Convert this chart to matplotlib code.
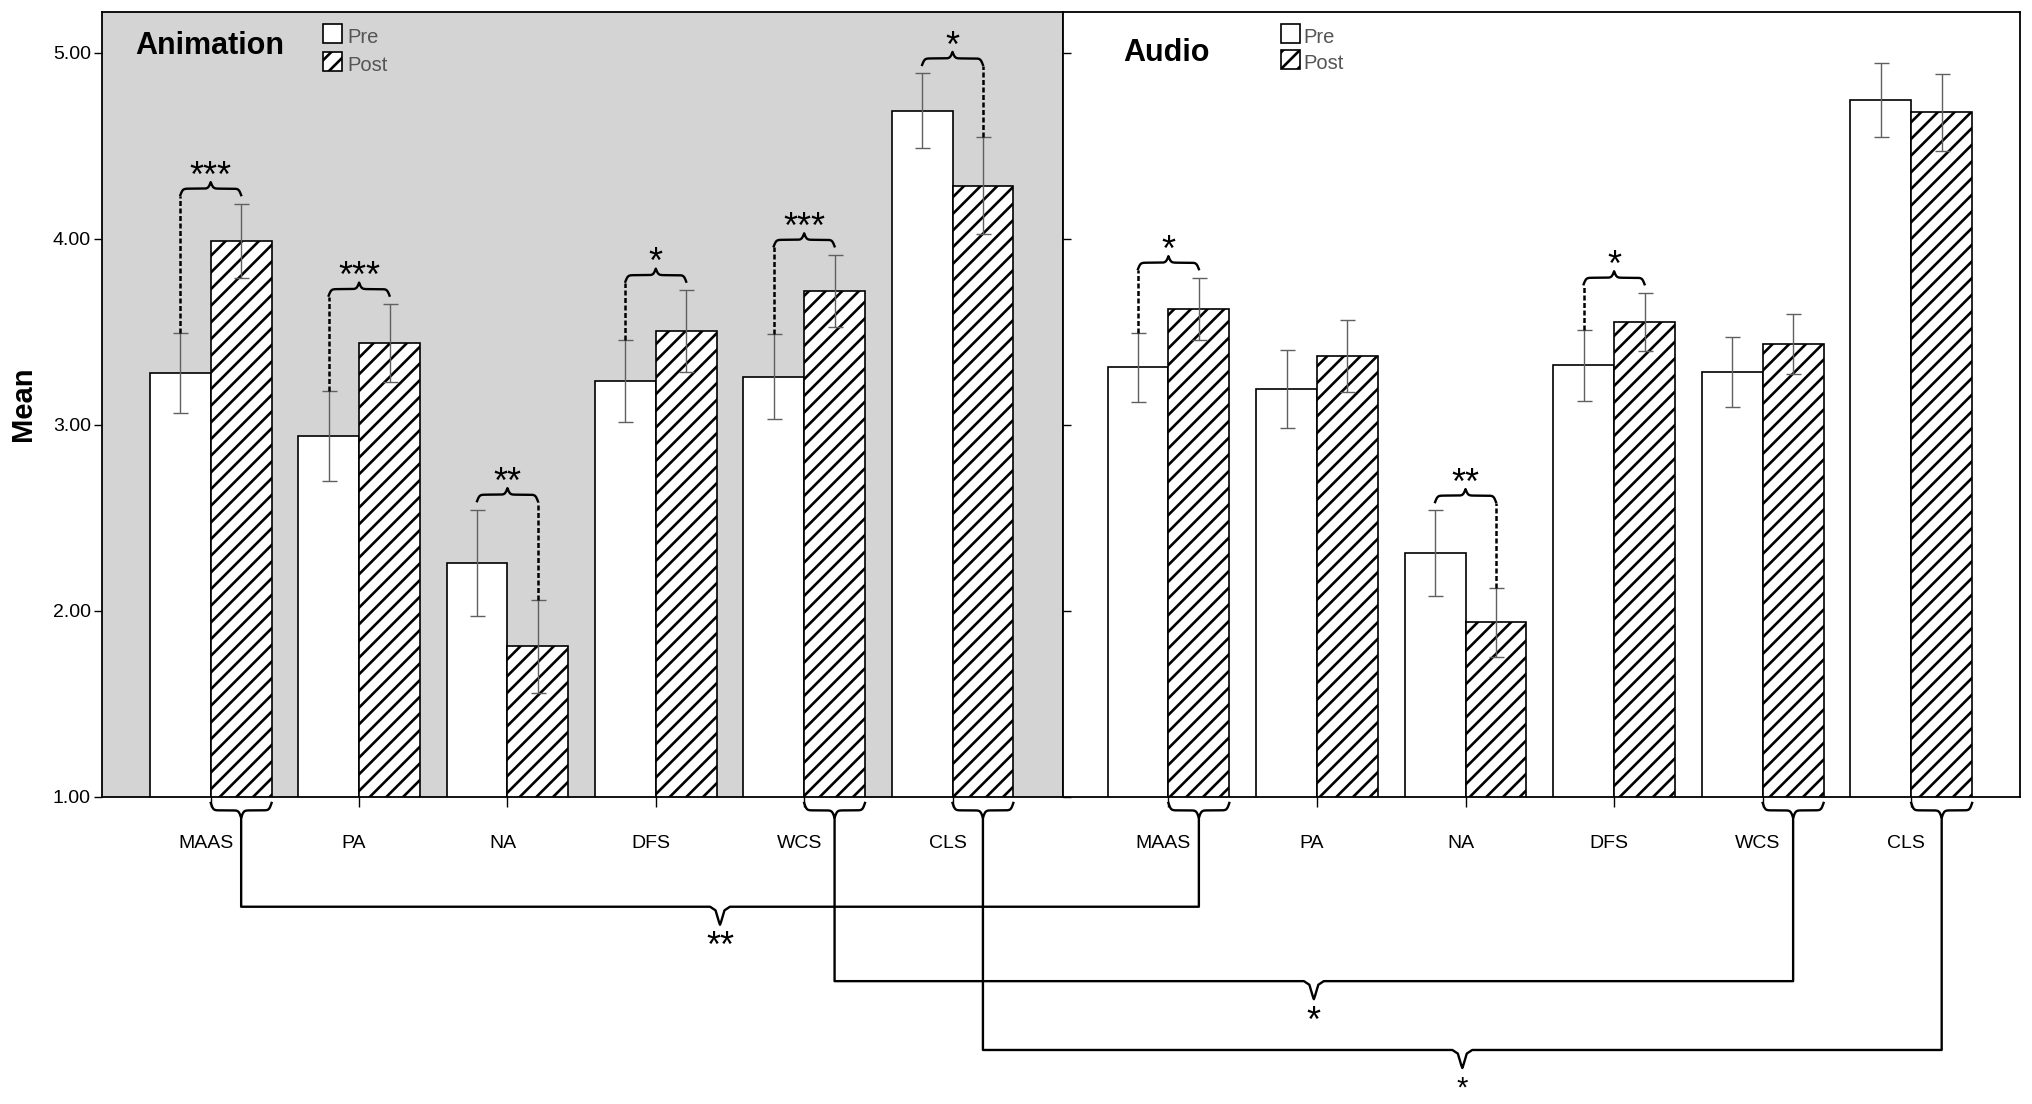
import numpy as np
import matplotlib
matplotlib.use("Agg")
import matplotlib.pyplot as plt
from matplotlib.patches import Rectangle
from matplotlib.transforms import ScaledTranslation

plt.rcParams['font.family'] = ['Liberation Sans', 'DejaVu Sans']
plt.rcParams['hatch.linewidth'] = 1.9

# Dados (média e meio intervalo de confiança)
scales = ["MAAS", "PA", "NA", "DFS", "WCS", "CLS"]

anim_pre = [3.28, 2.94, 2.26, 3.235, 3.26, 4.69]
anim_pre_err = [0.215, 0.24, 0.285, 0.22, 0.23, 0.20]
anim_post = [3.99, 3.44, 1.81, 3.505, 3.72, 4.285]
anim_post_err = [0.20, 0.21, 0.25, 0.22, 0.195, 0.26]

audio_pre = [3.31, 3.195, 2.31, 3.32, 3.285, 4.745]
audio_pre_err = [0.186, 0.21, 0.23, 0.19, 0.188, 0.20]
audio_post = [3.625, 3.37, 1.94, 3.555, 3.435, 4.68]
audio_post_err = [0.167, 0.194, 0.185, 0.156, 0.16, 0.207]

# significância pré x pós em cada grupo
anim_sig = ["***", "***", "**", "*", "***", "*"]
audio_sig = ["*", "", "**", "*", "", ""]

# comparações entre grupos (escores pós)
between = [("MAAS", "**"), ("WCS", "*"), ("CLS", "*")]
levels = [0.41, 0.01, -0.36]

w = 0.41


def brace(ax, x0, x1, y0, h, lw=1.7):
    # chave de x0 a x1, base em y0, ponta em y0 + h (h < 0 aponta para baixo)
    n = 201
    xs = np.linspace(x0, x1, n)
    half = xs[:n // 2 + 1]
    beta = 50.0 / (x1 - x0)
    yh = (1 / (1 + np.exp(-beta * (half - half[0])))
          + 1 / (1 + np.exp(-beta * (half - half[-1]))))
    yh = (yh - yh[0]) / (yh[-1] - yh[0])
    ys = np.concatenate([yh, yh[-2::-1]])
    ax.plot(xs, y0 + h * ys, color="black", lw=lw, clip_on=False)


def panel(ax, pre, pre_err, post, post_err, sig, title, title_pos, face, xlim, leg_x, txt_x, leg_post_y):
    x = np.arange(len(scales))
    ax.set_facecolor(face)
    ax.bar(x - w / 2, pre, w, color="white", edgecolor="black", lw=1.2, zorder=2)
    ax.bar(x + w / 2, post, w, color="white", edgecolor="black", lw=1.2, hatch="//", zorder=2)
    ax.errorbar(x - w / 2, pre, yerr=pre_err, fmt="none", ecolor="#606060",
                elinewidth=1, capsize=5.4, capthick=1, zorder=3)
    ax.errorbar(x + w / 2, post, yerr=post_err, fmt="none", ecolor="#606060",
                elinewidth=1, capsize=5.4, capthick=1, zorder=3)

    for i, s in enumerate(sig):
        if not s:
            continue
        xa, xb = x[i] - w / 2, x[i] + w / 2
        top_a = pre[i] + pre_err[i]
        top_b = post[i] + post_err[i]
        base = max(top_a, top_b) + 0.045
        brace(ax, xa, xb, base, 0.07)
        lx = xa if top_a < top_b else xb
        ax.plot([lx, lx], [min(top_a, top_b), base - 0.005], color="black",
                lw=1.8, ls=(0, (2, 1)), zorder=4)
        ax.text(x[i], base + 0.07 - 0.025, s, ha="center", va="baseline", fontsize=26)

    ax.set_xlim(*xlim)
    ax.set_ylim(1, 5.22)
    ax.set_xticks(x)
    ax.set_xticklabels(scales)
    ax.tick_params(axis="x", direction="out", length=7.2, width=1, pad=20, labelsize=14)
    for lab in ax.get_xticklabels():
        lab.set_transform(lab.get_transform() + ScaledTranslation(-0.05, 0, fig.dpi_scale_trans))
    ax.set_yticks([1, 2, 3, 4, 5])
    for sp in ax.spines.values():
        sp.set_linewidth(1.3)

    ax.text(title_pos[0], title_pos[1], title, transform=ax.transAxes,
            fontsize=22, fontweight="bold", va="baseline")
    # legenda desenhada à mão
    bw, bh = 19 / ax.get_window_extent().width, 19 / ax.get_window_extent().height
    ax.add_patch(Rectangle((leg_x, 0.9605), bw, bh, transform=ax.transAxes,
                           facecolor="white", edgecolor="black", lw=1.2, zorder=5))
    ax.add_patch(Rectangle((leg_x, leg_post_y), bw, bh, transform=ax.transAxes,
                           facecolor="white", edgecolor="black", lw=1.2, hatch="//", zorder=5))
    ax.text(txt_x, 0.9605, "Pre", transform=ax.transAxes, fontsize=14.5,
            color="#555555", va="baseline")
    ax.text(txt_x, leg_post_y, "Post", transform=ax.transAxes, fontsize=14.5,
            color="#555555", va="baseline")


fig = plt.figure(figsize=(20.32, 11.04), dpi=100)
ax1 = fig.add_axes([0.05005, 0.2781, 0.4731, 0.7111])
ax2 = fig.add_axes([0.5231, 0.2781, 0.4712, 0.7111])

panel(ax1, anim_pre, anim_pre_err, anim_post, anim_post_err, anim_sig,
      "Animation", (0.0346, 0.9465), "#d4d4d4", (-0.735, 5.745), 0.230, 0.2552, 0.9248)
panel(ax2, audio_pre, audio_pre_err, audio_post, audio_post_err, audio_sig,
      "Audio", (0.0627, 0.9376), "white", (-0.71, 5.735), 0.2278, 0.2508, 0.9274)

ax1.set_yticklabels(["%.2f" % v for v in [1, 2, 3, 4, 5]])
ax1.tick_params(axis="y", direction="out", length=5.8, width=1, pad=2, labelsize=14)
ax2.tick_params(axis="y", direction="in", length=5.8, width=1, labelleft=False)

fig.text(23 / 2032, 1 - 404 / 1104, "Mean", rotation=90, ha="center", va="center",
         fontsize=21, fontweight="bold")

# chaves abaixo do eixo e ligações entre grupos
hw, d = 0.067, 0.097
for (name, stars), lvl in zip(between, levels):
    i = scales.index(name)
    brace(ax1, i, i + w, 0.968, -0.08)
    brace(ax2, i, i + w, 0.968, -0.08)
    tip = 0.968 - 0.08
    xa = i + w / 2
    disp = ax2.transData.transform((i + w / 2, tip))
    xb = ax1.transData.inverted().transform(disp)[0]
    m = (xa + xb) / 2
    xs = [xa, xa, m - hw, m - 0.45 * hw, m - 0.1 * hw, m,
          m + 0.1 * hw, m + 0.45 * hw, m + hw, xb, xb]
    ys = [tip, lvl, lvl, lvl - 0.2 * d, lvl - 0.85 * d, lvl - d,
          lvl - 0.85 * d, lvl - 0.2 * d, lvl, lvl, tip]
    ax1.plot(xs, ys, color="black", lw=1.7, clip_on=False)
    low = lvl - d
    if lvl == min(levels):
        # junto à borda inferior: caixa do texto termina na borda da figura
        ax1.text(m, low - 0.185, stars, ha="center", va="bottom", fontsize=21)
    else:
        ax1.text(m, low - 0.03, stars, ha="center", va="top", fontsize=26)

fig.savefig("out.png", dpi=100)
